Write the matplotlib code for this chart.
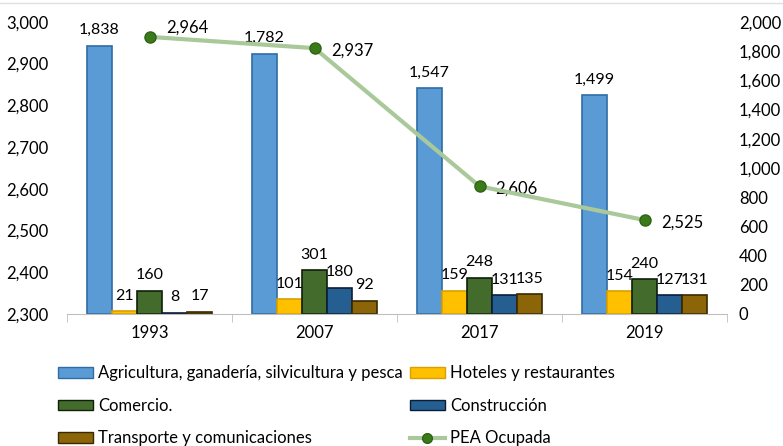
import numpy as np
import matplotlib.pyplot as plt
from matplotlib.patches import Patch
from matplotlib.lines import Line2D

plt.rcParams['font.family'] = ['Lato', 'DejaVu Sans']

years = ['1993', '2007', '2017', '2019']
agricultura = [1838, 1782, 1547, 1499]
hoteles = [21, 101, 159, 154]
comercio = [160, 301, 248, 240]
construccion = [8, 180, 131, 127]
transporte = [17, 92, 135, 131]
pea = [2964, 2937, 2606, 2525]

series = [
    ('Agricultura, ganadería, silvicultura y pesca', agricultura, '#5B9BD5', '#2E6DA4'),
    ('Hoteles y restaurantes', hoteles, '#FFC000', '#D9A000'),
    ('Comercio.', comercio, '#436B2C', '#0F1F08'),
    ('Construcción', construccion, '#255E91', '#0A1E38'),
    ('Transporte y comunicaciones', transporte, '#8B6508', '#3A2800'),
]

fs = 12

fig = plt.figure(figsize=(7.83, 4.46), dpi=100)
ax = fig.add_axes([0.0856, 0.296, 0.843, 0.655])
ax2 = ax.twinx()

# borde superior del gráfico
fig.add_artist(Line2D([0, 1], [0.993, 0.993], color='#E0E0E0', linewidth=1))

x = np.arange(len(years))
w = 0.152
handles = {}
for i, (name, vals, col, ec) in enumerate(series):
    pos = x + (i - 2) * w
    ax.bar(pos, vals, width=w, color=col, edgecolor=ec, linewidth=1.2, label=name)
    handles[name] = Patch(facecolor=col, edgecolor=ec, label=name)
    for p, v in zip(pos, vals):
        ax.annotate(f'{v:,}', (p, v), xytext=(0, 6), textcoords='offset points',
                    ha='center', va='bottom', fontsize=11.5)

ax.set_ylim(0, 2000)
ax.set_xlim(-0.5, 3.5)
ax.set_yticks(np.arange(0, 2001, 200))
ax.set_yticklabels([f'{v:,}' for v in range(0, 2001, 200)])
ax.tick_params(axis='y', left=False, labelleft=False, right=False, labelright=True,
               labelsize=fs, pad=5)
ax.set_xticks(x)
ax.set_xticklabels(years)
ax.tick_params(axis='x', length=0, labelsize=fs, pad=8)
ax.set_xticks(np.arange(-0.5, 4, 1), minor=True)
ax.tick_params(axis='x', which='minor', length=6, color='#BFBFBF')
for s in ['top', 'left', 'right']:
    ax.spines[s].set_visible(False)
ax.spines['bottom'].set_color('#BFBFBF')

ax2.plot(x, pea, color='#A9C99A', linewidth=3, marker='o', markersize=8,
         markerfacecolor='#3A7A1A', markeredgecolor='#2F6314', zorder=5)
offsets = [(12, 7), (12, -2), (11, -2), (12, -2)]
for xi, v, off in zip(x, pea, offsets):
    ax2.annotate(f'{v:,}', (xi, v), xytext=off, textcoords='offset points',
                 ha='left', va='center', fontsize=fs)
ax2.set_ylim(2300, 3000)
ax2.set_yticks(np.arange(2300, 3001, 100))
ax2.set_yticklabels([f'{v:,}' for v in range(2300, 3001, 100)])
ax2.tick_params(axis='y', left=False, labelleft=True, right=False, labelright=False,
                labelsize=fs, pad=10)
for s in ['top', 'left', 'right', 'bottom']:
    ax2.spines[s].set_visible(False)

line_handle = Line2D([], [], color='#A9C99A', linewidth=3, marker='o', markersize=7,
                     markerfacecolor='#3A7A1A', markeredgecolor='#2F6314', label='PEA Ocupada')
order = [handles[series[0][0]], handles[series[2][0]], handles[series[4][0]],
         handles[series[1][0]], handles[series[3][0]], line_handle]
fig.legend(handles=order, loc='upper left', bbox_to_anchor=(0.064, 0.2), ncol=2,
           frameon=False, fontsize=fs, handlelength=2.1, handleheight=0.6,
           handletextpad=0.3, columnspacing=0.4, labelspacing=1.0, borderpad=0)

fig.savefig('out.png', dpi=100)
